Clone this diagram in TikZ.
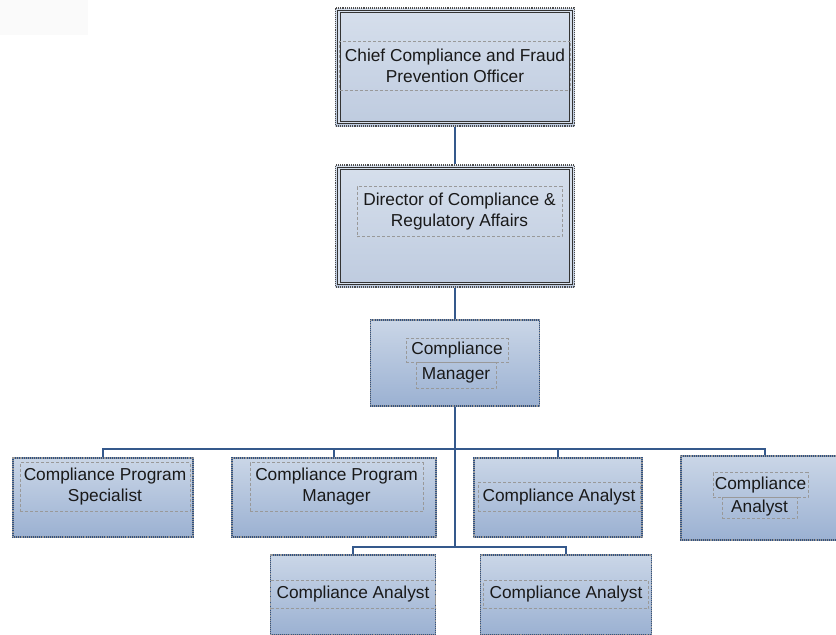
\documentclass[tikz,border=0pt]{standalone}
\usepackage{fontspec}
\setmainfont{Liberation Sans}
\usepackage{tikz}
\usetikzlibrary{positioning}

\definecolor{boxline}{HTML}{2F5286}
\definecolor{linkcol}{HTML}{35598C}
\definecolor{fillhi}{HTML}{CAD6E7}
\definecolor{filllo}{HTML}{9BB1D2}
\definecolor{fillpale}{HTML}{D6DFEC}
\definecolor{fillmid}{HTML}{BECBDF}
\newcommand{\boxfont}{\fontsize{17.3}{21}\selectfont}

\begin{document}
\begin{tikzpicture}[x=1pt, y=-1pt,
  unit/.style={draw=boxline, line width=1.1pt, top color=fillhi, bottom color=filllo,
               inner sep=0pt, postaction={draw=black!40, densely dotted, line width=1.1pt}},
  exec/.style={draw=black!70, densely dotted, line width=1.1pt, top color=fillpale,
               bottom color=fillmid, inner sep=0pt},
  dline/.style={draw=black!80, double=fillpale, double distance=1.6pt, line width=0.9pt},
  tframe/.style={draw=black!40, densely dashed, line width=0.6pt, inner sep=0pt,
                 align=center, font=\boxfont, text=black!90},
  link/.style={draw=linkcol, line width=1.3pt}
]
\useasboundingbox (0,0) rectangle (836,635);
\fill[black!2] (0,0) rectangle (88,35);

% executive level
\node[exec, minimum width=239, minimum height=118] (cco) at (455,67) {};
\draw[dline] ([shift={(4,4)}]cco.north west) rectangle ([shift={(-4,-4)}]cco.south east);
\node[tframe, minimum width=231, minimum height=49] (ccotext) at (455,65.5)
      {Chief Compliance and Fraud\\Prevention Officer};

\node[exec, minimum width=239, minimum height=122] (dir) at (455,226) {};
\draw[dline] ([shift={(4,4)}]dir.north west) rectangle ([shift={(-4,-4)}]dir.south east);
\node[tframe, minimum width=205, minimum height=50] (dirtext) at (459.5,211.5)
      {Director of Compliance \&\\Regulatory Affairs};

% manager
\node[unit, minimum width=169, minimum height=86] (mgr) at (455,363) {};
\node[tframe, minimum width=102, minimum height=24] (mgrtop) at (457,350.5) {Compliance};
\node[tframe, minimum width=80, minimum height=26] (mgrbot) at (456,375.5) {Manager};

% staff row
\node[unit, minimum width=180, minimum height=79] (spec) at (103,497.5) {};
\node[tframe, minimum width=170, minimum height=49] (spectext) at (105,487)
      {Compliance Program\\Specialist};

\node[unit, minimum width=204, minimum height=79] (progmgr) at (334,497.5) {};
\node[tframe, minimum width=173, minimum height=49] (progtext) at (336.5,487)
      {Compliance Program\\Manager};

\node[unit, minimum width=168, minimum height=79] (anaC) at (558,497.5) {};
\node[tframe, minimum width=162, minimum height=29] (anaCtext) at (559,497)
      {Compliance Analyst};

\node[unit, minimum width=168, minimum height=84] (anaD) at (765,498) {};
\node[tframe, minimum width=95, minimum height=25] (anaDtop) at (760.5,485) {Compliance};
\node[tframe, minimum width=75, minimum height=21] (anaDbot) at (759.5,508) {Analyst};

% lower row
\node[unit, minimum width=165, minimum height=80] (anaE) at (353,595) {};
\node[tframe, minimum width=165, minimum height=28] (anaEtext) at (353,594.5)
      {Compliance Analyst};

\node[unit, minimum width=171, minimum height=80] (anaF) at (566,595) {};
\node[tframe, minimum width=165, minimum height=28] (anaFtext) at (566,594.5)
      {Compliance Analyst};

% connectors
\coordinate (hub) at (455,449);
\coordinate (lowhub) at (455,547);
\draw[link] (cco) -- (dir);
\draw[link] (dir) -- (mgr);
\draw[link] (mgr) -- (lowhub);
\foreach \b in {spec,progmgr,anaC,anaD}
  \draw[link] (\b.north) |- (hub);
\foreach \b in {anaE,anaF}
  \draw[link] (\b.north) |- (lowhub);
\end{tikzpicture}
\end{document}
